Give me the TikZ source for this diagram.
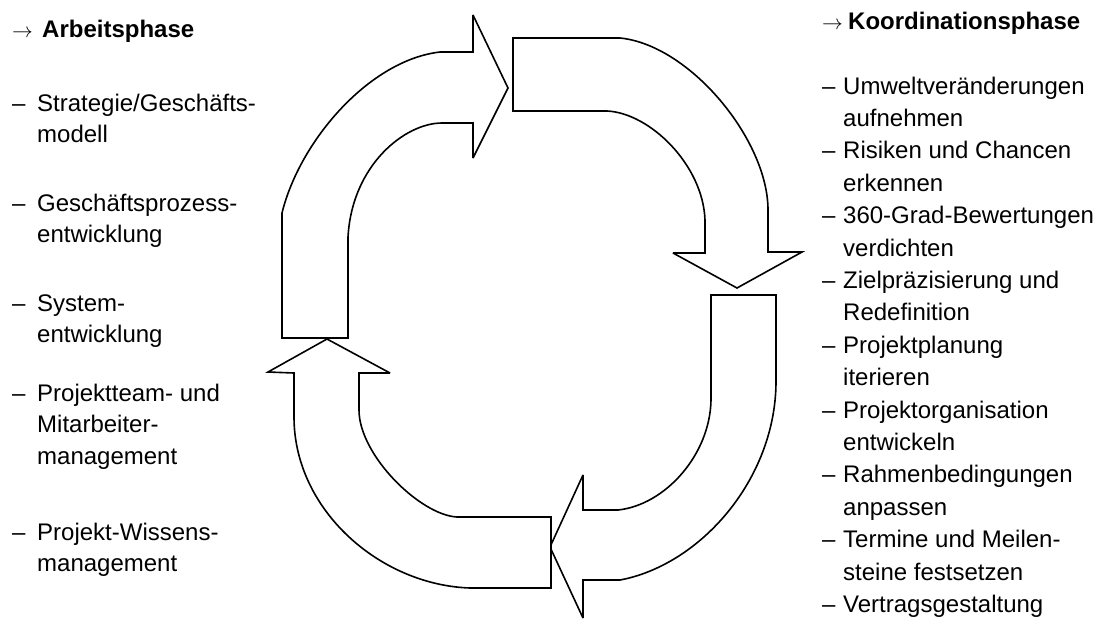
\documentclass[tikz,border=0pt]{standalone}
\usepackage{fontspec}
\setmainfont{Liberation Sans}
\newcommand{\headarrow}{{\fontsize{21}{21}\selectfont$\rightarrow$}}
\begin{document}
\begin{tikzpicture}[x=1pt,y=-1pt,
  band/.style={draw=black, line width=1.6pt, line join=miter, miter limit=4, fill=white},
  head/.style={anchor=base west, inner sep=0pt, font=\fontsize{24}{30}\selectfont\bfseries},
  leftitem/.style={anchor=base west, inner sep=0pt, font=\fontsize{24}{31.5}\selectfont},
  rightitem/.style={anchor=base west, inner sep=0pt, font=\fontsize{24}{32.4}\selectfont}]
\useasboundingbox (0,0) rectangle (1111,622);

% upper left band: rises and turns right
\draw[band] (282,338) -- (282,213)
  .. controls (300,140) and (370,60) .. (440,52)
  -- (473,52) -- (473,15) -- (508,88) -- (473,158) -- (473,123) -- (442,123)
  .. controls (405,123) and (352,165) .. (348,237)
  -- (348,338) -- cycle;

% upper right band: runs right and turns down
\draw[band] (513,38) -- (620,38)
  .. controls (690,45) and (768,140) .. (768,210)
  -- (768,252) -- (802,252) -- (737,288) -- (673,253) -- (705,253) -- (705,220)
  .. controls (703,165) and (650,113) .. (607,111)
  -- (513,111) -- cycle;

% lower right band: descends and turns left
\draw[band] (711,295) -- (776,295) -- (776,383)
  .. controls (775,480) and (700,565) .. (620,580)
  -- (583,580) -- (583,618) -- (550,547) -- (583,475) -- (583,510) -- (618,510)
  .. controls (665,505) and (710,455) .. (711,400)
  -- cycle;

% lower left band: runs left and turns up
\draw[band] (551,517) -- (551,588) -- (470,588)
  .. controls (380,585) and (294,510) .. (294,417)
  -- (294,373) -- (268,372) -- (327,339) -- (390,373) -- (359,373) -- (359,410)
  .. controls (359,455) and (420,515) .. (457,517)
  -- cycle;

% left column
\node[head] (lhead) at (12,37) {\makebox[30pt][l]{\headarrow}Arbeitsphase};
\node[leftitem] (l1) at (12,111) {\makebox[25pt][l]{–}\parbox[t]{240pt}{Strategie/Geschäfts-\\modell}};
\node[leftitem] (l2) at (12,211) {\makebox[25pt][l]{–}\parbox[t]{240pt}{Geschäftsprozess-\\entwicklung}};
\node[leftitem] (l3) at (12,311) {\makebox[25pt][l]{–}\parbox[t]{240pt}{System-\\entwicklung}};
\node[leftitem] (l4) at (12,401) {\makebox[25pt][l]{–}\parbox[t]{240pt}{Projektteam- und\\Mitarbeiter-\\management}};
\node[leftitem] (l5) at (12,540) {\makebox[25pt][l]{–}\parbox[t]{240pt}{Projekt-Wissens-\\management}};

% right column
\node[head] (rhead) at (822,29) {\makebox[26pt][l]{\headarrow}Koordinationsphase};
\node[rightitem] (r1) at (822,94.0) {\makebox[21pt][l]{–}\parbox[t]{270pt}{Umweltveränderungen\\aufnehmen}};
\node[rightitem] (r2) at (822,158.8) {\makebox[21pt][l]{–}\parbox[t]{270pt}{Risiken und Chancen\\erkennen}};
\node[rightitem] (r3) at (822,223.6) {\makebox[21pt][l]{–}\parbox[t]{270pt}{360-Grad-Bewertungen\\verdichten}};
\node[rightitem] (r4) at (822,288.4) {\makebox[21pt][l]{–}\parbox[t]{270pt}{Zielpräzisierung und\\Redefinition}};
\node[rightitem] (r5) at (822,353.2) {\makebox[21pt][l]{–}\parbox[t]{270pt}{Projektplanung\\iterieren}};
\node[rightitem] (r6) at (822,418.0) {\makebox[21pt][l]{–}\parbox[t]{270pt}{Projektorganisation\\entwickeln}};
\node[rightitem] (r7) at (822,482.8) {\makebox[21pt][l]{–}\parbox[t]{270pt}{Rahmenbedingungen\\anpassen}};
\node[rightitem] (r8) at (822,547.6) {\makebox[21pt][l]{–}\parbox[t]{270pt}{Termine und Meilen-\\steine festsetzen}};
\node[rightitem] (r9) at (822,612.4) {\makebox[21pt][l]{–}\parbox[t]{270pt}{Vertragsgestaltung}};
\end{tikzpicture}
\end{document}
